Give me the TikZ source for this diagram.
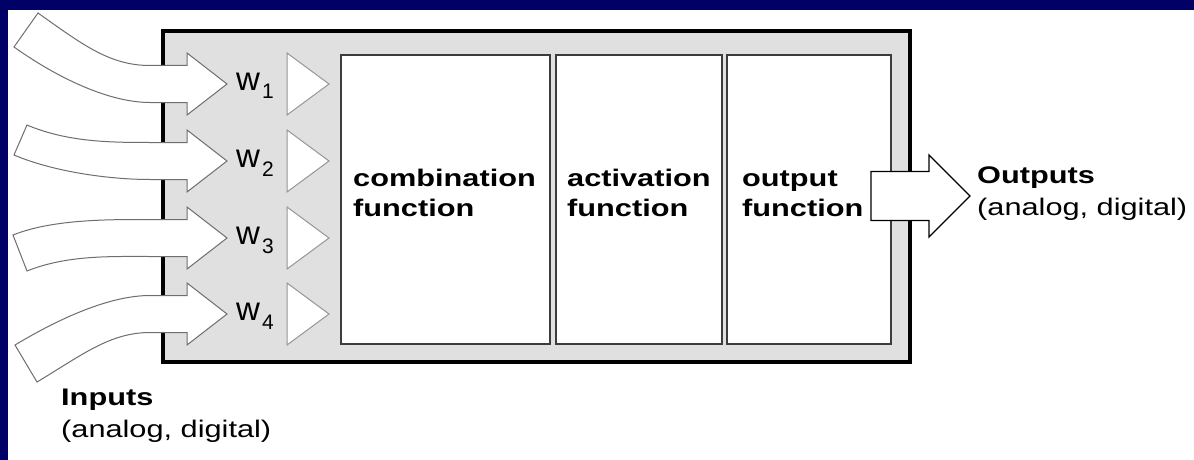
\documentclass[tikz,border=0pt]{standalone}
\usepackage{fontspec}
\setmainfont{Liberation Sans}[FakeStretch=1.28]
\newfontfamily\weightFont{Liberation Sans}
\usepackage{tikz}
\usetikzlibrary{positioning}
\definecolor{slideBlue}{RGB}{0,0,102}
\definecolor{frameGrey}{RGB}{224,224,224}
\definecolor{boxLine}{RGB}{60,60,60}
\definecolor{arrowLine}{RGB}{110,110,110}
\definecolor{triangleLine}{RGB}{150,150,150}
\tikzstyle{diagram} = [x = 1pt, y = -1pt]
\tikzstyle{frameStyle} = [draw=black, fill=frameGrey, line width=3.5pt]
\tikzstyle{functionBox} = [draw=boxLine, fill=white, line width=2pt, inner sep=0pt, anchor=north west]
\tikzstyle{functionText} = [font=\fontsize{24}{29.5}\selectfont\bfseries, align=left, inner sep=0pt, anchor=base west]
\tikzstyle{labelText} = [font=\fontsize{24}{32}\selectfont, align=left, inner sep=0pt, anchor=base west]
\tikzstyle{weightText} = [font=\weightFont\fontsize{33}{33}\selectfont, inner sep=0pt, anchor=base west]
\tikzstyle{triangleStyle} = [draw=triangleLine, fill=white, line width=1pt, line join=miter]
\tikzstyle{inputArrowStyle} = [draw=arrowLine, fill=white, line width=1pt]
\tikzstyle{outputArrowStyle} = [draw=black, fill=white, line width=1.3pt]
\newcommand{\inputArrow}[8]{\filldraw [inputArrowStyle] (#3,#4) .. controls (#3 + #7,#4 + #8) and (110,#2 - 18.5) .. (150,#2 - 18.5) -- (187,#2 - 18.5) -- (187,#2 - 31) -- (227,#2) coordinate (#1) -- (187,#2 + 31) -- (187,#2 + 18.5) -- (150,#2 + 18.5) .. controls (110,#2 + 18.5) and (#5 + #7,#6 + #8) .. (#5,#6) -- cycle;}
\newcommand{\weightTriangle}[1]{\filldraw [triangleStyle] (287,#1 - 31) -- (329,#1) -- (287,#1 + 31) -- cycle;}
\newcommand{\weightLabel}[3]{\node [weightText] (#1) at (236,#2 + 6) {w\kern2pt\raisebox{-9pt}{\fontsize{21}{21}\selectfont #3}};}

\begin{document}
\begin{tikzpicture}[diagram]
  \useasboundingbox (0,0) rectangle (1194,460);
  \fill [slideBlue] (0,0) rectangle (1194,460);
  \fill [white] (8,10) rectangle (1194,460);
  % neuron frame
  \filldraw [frameStyle] (163,31) rectangle (910,362);
  \node [functionBox, minimum width=209, minimum height=289] (combBox) at (340,54) {};
  \node [functionBox, minimum width=166, minimum height=289] (actBox) at (555,54) {};
  \node [functionBox, minimum width=164, minimum height=289] (outBox) at (726,54) {};
  \node [functionText] (combText) at (353,216) {combination\\function};
  \node [functionText] (actText) at (567,216) {activation\\function};
  \node [functionText] (outText) at (742,216) {output\\function};
  % weights
  \foreach \row/\center in {1/84,2/161,3/238,4/314} {
    \weightTriangle{\center}
    \weightLabel{w\row}{\center}{\row}
  }
  % inputs
  \inputArrow{inTip1}{84}{38}{13}{14}{47}{45}{32}
  \inputArrow{inTip2}{161}{27}{125}{14}{155}{40}{17}
  \inputArrow{inTip3}{238}{13}{235}{27}{271}{40}{-16}
  \inputArrow{inTip4}{314}{15}{345}{37}{382}{45}{-27}
  % output
  \filldraw [outputArrowStyle] (871,171.5) -- (929,171.5) -- (929,155) -- (970,196) coordinate (outTip) -- (929,237) -- (929,220.5) -- (871,220.5) -- cycle;
  \node [labelText] (outputs) at (977,215) {\textbf{Outputs}\\(analog, digital)};
  \node [labelText] (inputs) at (61,437) {\textbf{Inputs}\\(analog, digital)};
\end{tikzpicture}
\end{document}
